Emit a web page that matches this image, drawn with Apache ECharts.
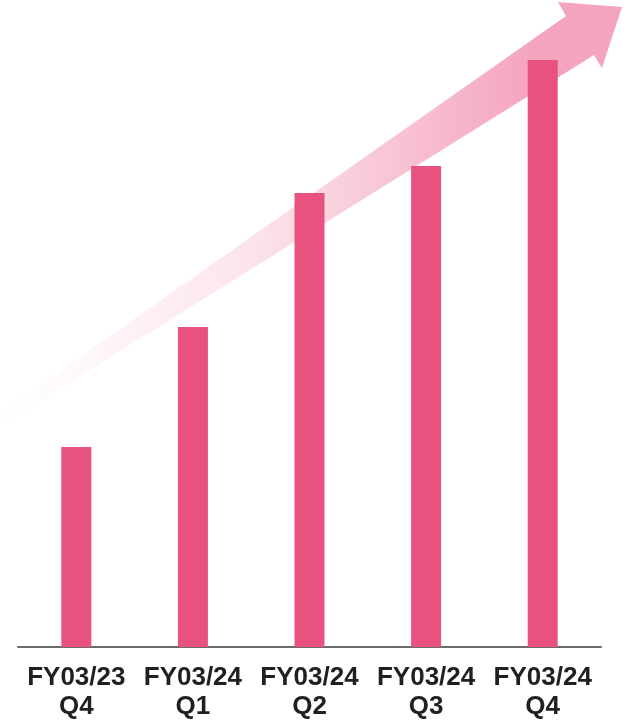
<!DOCTYPE html>
<html>
<head>
<meta charset="utf-8">
<script src="https://cdn.jsdelivr.net/npm/echarts@6/dist/echarts.min.js"></script>
<style>
  html, body { margin: 0; padding: 0; background: #ffffff; }
  #chart { width: 628px; height: 728px; }
</style>
</head>
<body>
<div id="chart"></div>
<script>
// Quarterly values (relative scale, no axis shown)
const categories = ['FY03/23\nQ4', 'FY03/24\nQ1', 'FY03/24\nQ2', 'FY03/24\nQ3', 'FY03/24\nQ4'];
const values = [200, 320, 454, 481, 587];

const chart = echarts.init(document.getElementById('chart'), null, { renderer: 'canvas' });

// Tapered growth arrow drawn behind the bars, fading in from the left
const arrowColor = [244, 165, 189];
const arrowShape = [
  [0, 413], [566, 16], [558, 2], [622, 7], [602, 68], [594, 55], [0, 426]
];
const rgba = a => `rgba(${arrowColor.join(',')},${a})`;

chart.setOption({
  animation: false,
  backgroundColor: '#ffffff',
  grid: { left: 18, right: 27, top: 47, bottom: 81, containLabel: false },
  graphic: [{
    type: 'polygon',
    z: 0,
    silent: true,
    shape: { points: arrowShape },
    style: {
      fill: new echarts.graphic.LinearGradient(0, 0, 628, 0, [
        { offset: 0, color: rgba(0) },
        { offset: 0.16, color: rgba(0.1) },
        { offset: 0.4, color: rgba(0.3) },
        { offset: 0.5, color: rgba(0.45) },
        { offset: 0.72, color: rgba(0.8) },
        { offset: 0.85, color: rgba(1) },
        { offset: 1, color: rgba(1) }
      ], true)
    }
  }],
  xAxis: {
    type: 'category',
    data: categories,
    axisLine: { show: true, lineStyle: { color: '#6b6b6b', width: 2 } },
    axisTick: { show: false },
    axisLabel: {
      interval: 0,
      margin: 16,
      color: '#231f20',
      fontFamily: 'Liberation Sans, Arial, sans-serif',
      fontWeight: 'bold',
      fontSize: 26,
      lineHeight: 29
    }
  },
  yAxis: {
    type: 'value',
    min: 0,
    max: 600,
    show: false,
    splitLine: { show: false }
  },
  series: [{
    type: 'bar',
    z: 2,
    data: values,
    barWidth: 30,
    itemStyle: { color: '#e9517f' }
  }]
});
</script>
</body>
</html>
